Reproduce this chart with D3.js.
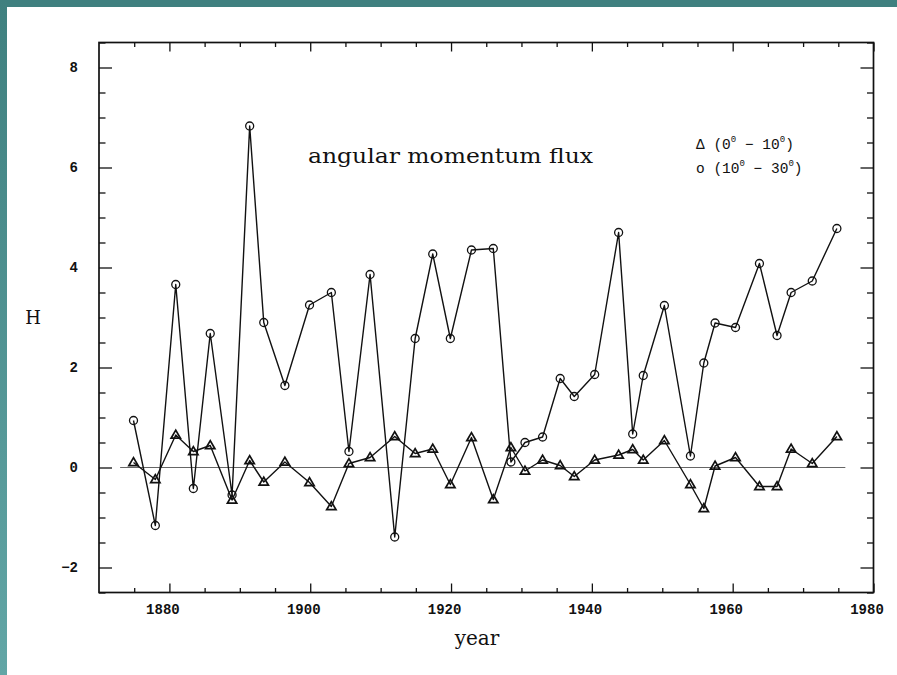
<!DOCTYPE html>
<html>
<head>
<meta charset="utf-8">
<script src="https://cdn.jsdelivr.net/npm/d3@7"></script>
<style>
  html, body { margin: 0; padding: 0; background: #ffffff; }
  svg { display: block; }
</style>
</head>
<body>
<svg id="chart" width="897" height="675"></svg>
<script>
// Observation years shared by both latitude bands
const years = [
  1874.9, 1878.0, 1880.9, 1883.4, 1885.8, 1888.9, 1891.4, 1893.4, 1896.4, 1899.9,
  1903.0, 1905.5, 1908.5, 1912.0, 1914.9, 1917.4, 1919.9, 1922.9, 1926.0, 1928.5,
  1930.5, 1933.0, 1935.5, 1937.5, 1940.4, 1943.8, 1945.8, 1947.3, 1950.3, 1954.0,
  1955.9, 1957.5, 1960.4, 1963.8, 1966.3, 1968.3, 1971.3, 1974.8
];
// Angular momentum flux H, 0°–10° band (triangles)
const band0to10 = [
  0.10, -0.24, 0.65, 0.32, 0.44, -0.65, 0.14, -0.29, 0.11, -0.30,
  -0.78, 0.08, 0.20, 0.62, 0.28, 0.37, -0.34, 0.60, -0.64, 0.40,
  -0.07, 0.15, 0.04, -0.18, 0.15, 0.25, 0.36, 0.15, 0.54, -0.34,
  -0.82, 0.03, 0.20, -0.38, -0.38, 0.37, 0.08, 0.62
];
// Angular momentum flux H, 10°–30° band (circles)
const band10to30 = [
  0.94, -1.16, 3.66, -0.42, 2.68, -0.55, 6.83, 2.90, 1.64, 3.25,
  3.50, 0.32, 3.86, -1.39, 2.58, 4.27, 2.58, 4.35, 4.38, 0.11,
  0.50, 0.61, 1.78, 1.42, 1.86, 4.70, 0.67, 1.84, 3.24, 0.23,
  2.09, 2.89, 2.80, 4.08, 2.64, 3.50, 3.73, 4.78
];
const xTicks = [1880, 1900, 1920, 1940, 1960, 1980];
const yTicks = [-2, 0, 2, 4, 6, 8];
const xMinor = d3.range(1875, 1980, 5).filter(v => !xTicks.includes(v));
const yMinor = d3.range(-2.5, 8.51, 0.5).filter(v => !yTicks.includes(v));

const svg = d3.select("#chart");
const W = 897, H = 675;

// Page frame: teal bands along the top and left edges
const grad = svg.append("defs").append("linearGradient")
  .attr("id", "edge").attr("x1", 0).attr("y1", 0).attr("x2", 0).attr("y2", 1);
grad.append("stop").attr("offset", "0%").attr("stop-color", "#3f807f");
grad.append("stop").attr("offset", "100%").attr("stop-color", "#62a6a6");
svg.append("rect").attr("width", W).attr("height", H).attr("fill", "#ffffff");
svg.append("rect").attr("x", 0).attr("y", 0).attr("width", W).attr("height", 7).attr("fill", "#3f807f");
svg.append("rect").attr("x", 0).attr("y", 0).attr("width", 7).attr("height", H).attr("fill", "url(#edge)");

const plot = { left: 99, right: 873.5, top: 42.5, bottom: 592.5 };
const x = d3.scaleLinear().domain([1870, 1980]).range([plot.left, plot.right]);
const y = d3.scaleLinear().domain([-2.5, 8.5]).range([plot.bottom, plot.top]);

const ink = "#111";
const monoFont = "'Liberation Mono', 'DejaVu Sans Mono', monospace";
const serifFont = "'DejaVu Serif', 'Liberation Serif', serif";

function styleAxis(g) {
  g.select(".domain").remove();
  g.selectAll("line").attr("stroke", ink).attr("stroke-width", 1.3);
  g.selectAll("text")
    .attr("fill", ink)
    .style("font-family", monoFont)
    .style("font-size", "14px")
    .style("font-weight", "bold");
}

// Major ticks with labels, pointing into the plot
svg.append("g").attr("transform", `translate(0,${plot.bottom})`)
  .call(d3.axisBottom(x).tickValues(xTicks).tickFormat(d3.format("d"))
    .tickSizeInner(-9).tickSizeOuter(0).tickPadding(12))
  .call(styleAxis)
  .call(g => g.selectAll("text").attr("dx", -7));
svg.append("g").attr("transform", `translate(${plot.left},0)`)
  .call(d3.axisLeft(y).tickValues(yTicks).tickFormat(d => d < 0 ? "\u2212" + Math.abs(d) : d)
    .tickSizeInner(-13).tickSizeOuter(0).tickPadding(21))
  .call(styleAxis);
// Mirrored major ticks on top and right
svg.append("g").attr("transform", `translate(0,${plot.top})`)
  .call(d3.axisTop(x).tickValues(xTicks).tickFormat("").tickSizeInner(-9).tickSizeOuter(0))
  .call(styleAxis);
svg.append("g").attr("transform", `translate(${plot.right},0)`)
  .call(d3.axisRight(y).tickValues(yTicks).tickFormat("").tickSizeInner(-13).tickSizeOuter(0))
  .call(styleAxis);
// Minor ticks on all four sides
svg.append("g").attr("transform", `translate(0,${plot.bottom})`)
  .call(d3.axisBottom(x).tickValues(xMinor).tickFormat("").tickSizeInner(-4.5).tickSizeOuter(0))
  .call(styleAxis);
svg.append("g").attr("transform", `translate(0,${plot.top})`)
  .call(d3.axisTop(x).tickValues(xMinor).tickFormat("").tickSizeInner(-4.5).tickSizeOuter(0))
  .call(styleAxis);
svg.append("g").attr("transform", `translate(${plot.left},0)`)
  .call(d3.axisLeft(y).tickValues(yMinor).tickFormat("").tickSizeInner(-6.5).tickSizeOuter(0))
  .call(styleAxis);
svg.append("g").attr("transform", `translate(${plot.right},0)`)
  .call(d3.axisRight(y).tickValues(yMinor).tickFormat("").tickSizeInner(-6.5).tickSizeOuter(0))
  .call(styleAxis);

// Plot frame
svg.append("rect")
  .attr("x", plot.left).attr("y", plot.top)
  .attr("width", plot.right - plot.left).attr("height", plot.bottom - plot.top)
  .attr("fill", "none").attr("stroke", ink).attr("stroke-width", 1.7);

// Zero reference line
svg.append("line")
  .attr("x1", x(1873)).attr("x2", x(1976))
  .attr("y1", y(0)).attr("y2", y(0))
  .attr("stroke", "#555").attr("stroke-width", 0.9);

const line = d3.line().x(d => x(d[0])).y(d => y(d[1]));
const ptsTri = years.map((yr, i) => [yr, band0to10[i]]);
const ptsCirc = years.map((yr, i) => [yr, band10to30[i]]);

svg.append("path").datum(ptsCirc).attr("d", line)
  .attr("fill", "none").attr("stroke", ink).attr("stroke-width", 1.4).attr("stroke-linejoin", "round");
svg.append("path").datum(ptsTri).attr("d", line)
  .attr("fill", "none").attr("stroke", ink).attr("stroke-width", 1.4).attr("stroke-linejoin", "round");

svg.append("g").selectAll("circle").data(ptsCirc).join("circle")
  .attr("cx", d => x(d[0])).attr("cy", d => y(d[1])).attr("r", 4)
  .attr("fill", "none").attr("stroke", ink).attr("stroke-width", 1.3);

const tri = d3.symbol().type(d3.symbolTriangle).size(38);
svg.append("g").selectAll("path").data(ptsTri).join("path")
  .attr("d", tri)
  .attr("transform", d => `translate(${x(d[0])},${y(d[1]) + 0.5})`)
  .attr("fill", "none").attr("stroke", ink).attr("stroke-width", 1.7);

// Title inside the plot
svg.append("text")
  .attr("x", 308).attr("y", 163)
  .attr("fill", ink)
  .style("font-family", serifFont).style("font-size", "19.5px")
  .attr("textLength", 285).attr("lengthAdjust", "spacingAndGlyphs")
  .text("angular momentum flux");

// Legend
const legendRows = [
  { symbol: "\u0394", lo: "0", hi: "10", yPos: 149 },
  { symbol: "o", lo: "10", hi: "30", yPos: 173 }
];
legendRows.forEach(r => {
  const t = svg.append("text")
    .attr("x", 696).attr("y", r.yPos)
    .attr("fill", ink)
    .style("font-family", monoFont).style("font-size", "14.5px");
  t.append("tspan").text(r.symbol + " (" + r.lo);
  t.append("tspan").attr("dy", -7).style("font-size", "9px").text("0");
  t.append("tspan").attr("dy", 7).text(" \u2212 " + r.hi);
  t.append("tspan").attr("dy", -7).style("font-size", "9px").text("0");
  t.append("tspan").attr("dy", 7).text(")");
});

// Axis titles
svg.append("text")
  .attr("x", 477).attr("y", 645).attr("text-anchor", "middle")
  .attr("fill", ink)
  .style("font-family", serifFont).style("font-size", "20px")
  .text("year");
svg.append("text")
  .attr("x", 33).attr("y", 324).attr("text-anchor", "middle")
  .attr("fill", ink)
  .style("font-family", serifFont).style("font-size", "18px")
  .text("H");
</script>
</body>
</html>
